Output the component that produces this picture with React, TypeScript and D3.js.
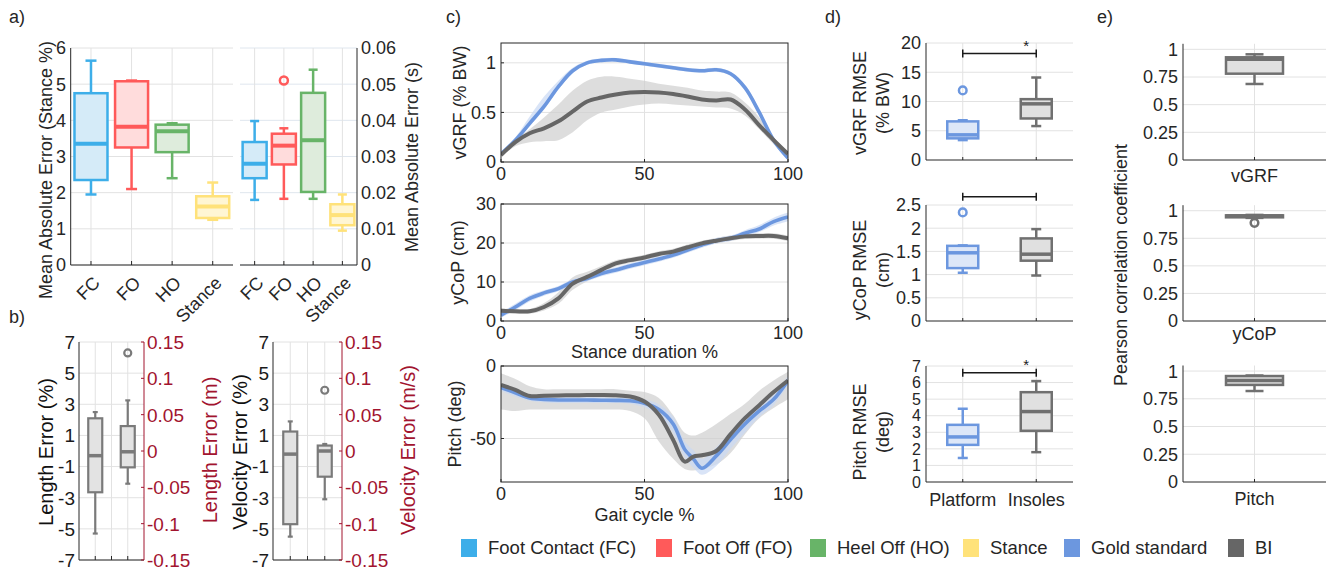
import * as d3 from "d3";

const FONT = "'Liberation Sans', Arial, Helvetica, sans-serif";
const INK = "#262626";
const GRID = "#e2e2e2";
const CRIMSON = "#a2142f";
const GOLD = "#6c97df";
const GOLD_FILL = "#dde7f8";
const BI = "#666666";
const BI_BOX = "#707070";
const BI_FILL = "#e0e0e0";

// a) event timing errors: [lowWhisker, q1, median, q3, highWhisker]
const events = ["FC", "FO", "HO", "Stance"];
const eventColors = ["#3daee9", "#ff5a5a", "#68b468", "#ffe27a"];
const eventFills = ["#d5ebf8", "#ffdcdc", "#deecdc", "#fff6d4"];
const maePct = [
  [1.95, 2.35, 3.35, 4.75, 5.65],
  [2.1, 3.25, 3.82, 5.08, 5.1],
  [2.4, 3.12, 3.7, 3.88, 3.92],
  [1.25, 1.3, 1.62, 1.9, 2.28],
];
const maeSec = [
  [0.018, 0.024, 0.028, 0.034, 0.0398],
  [0.0183, 0.0278, 0.033, 0.0363, 0.0378],
  [0.0183, 0.0202, 0.0345, 0.0476, 0.054],
  [0.0095, 0.011, 0.0138, 0.0168, 0.0195],
];
const maeSecOutliers = [[], [0.051], [], []];
const pctTicks = [0, 1, 2, 3, 4, 5, 6];
const secTicks = [0, 0.01, 0.02, 0.03, 0.04, 0.05, 0.06];
const secTickLabels = ["0", "0.01", "0.02", "0.03", "0.04", "0.05", "0.06"];

// b) length and velocity errors
const lengthPct = [
  [-5.3, -2.65, -0.3, 2.1, 2.5],
  [-2.1, -1.05, -0.05, 1.6, 3.25],
];
const lengthOutliers = [[], [6.3]];
const velocityPct = [
  [-5.5, -4.7, -0.2, 1.25, 1.9],
  [-3.1, -1.65, 0.0, 0.35, 0.45],
];
const velocityOutliers = [[], [3.9]];
const errTicks = [-7, -5, -3, -1, 1, 3, 5, 7];
const errTicks2 = [-0.15, -0.1, -0.05, 0, 0.05, 0.1, 0.15];
const errTickLabels2 = ["-0.15", "-0.1", "-0.05", "0", "0.05", "0.1", "0.15"];

// c) mean curves with spread bands
const pctX = [0, 5, 10, 15, 20, 25, 30, 35, 40, 45, 50, 55, 60, 65, 70, 75, 80, 85, 90, 95, 100];
const vgrfGold = [0.08, 0.22, 0.39, 0.56, 0.76, 0.92, 1.0, 1.025, 1.03, 1.01, 0.99, 0.97, 0.95, 0.93, 0.92, 0.93, 0.89, 0.75, 0.5, 0.22, 0.04];
const vgrfGoldLo = [0.06, 0.2, 0.36, 0.53, 0.73, 0.9, 0.98, 1.005, 1.01, 0.99, 0.97, 0.95, 0.93, 0.91, 0.9, 0.91, 0.87, 0.72, 0.47, 0.19, 0.02];
const vgrfGoldHi = [0.1, 0.25, 0.46, 0.66, 0.82, 0.95, 1.02, 1.045, 1.05, 1.03, 1.01, 0.99, 0.97, 0.95, 0.94, 0.95, 0.91, 0.78, 0.53, 0.25, 0.06];
const vgrfBI = [0.07, 0.2, 0.29, 0.34, 0.41, 0.51, 0.61, 0.65, 0.68, 0.7, 0.705, 0.7, 0.685, 0.66, 0.63, 0.62, 0.63, 0.53, 0.37, 0.22, 0.08];
const vgrfBILo = [0.05, 0.16, 0.2, 0.21, 0.22, 0.3, 0.42, 0.5, 0.53, 0.56, 0.58, 0.59, 0.58, 0.57, 0.56, 0.55, 0.54, 0.47, 0.33, 0.18, 0.05];
const vgrfBIHi = [0.1, 0.22, 0.33, 0.45, 0.58, 0.72, 0.82, 0.86, 0.86, 0.84, 0.82, 0.79, 0.77, 0.75, 0.72, 0.71, 0.7, 0.6, 0.45, 0.25, 0.1];

const copGold = [1.5, 3.6, 5.8, 7.2, 8.3, 10.0, 10.9, 12.2, 13.1, 14.1, 15.0, 15.9, 16.9, 18.2, 19.5, 20.6, 21.2, 22.5, 23.6, 25.5, 26.7];
const copGoldLo = [0.8, 2.8, 5.0, 6.5, 7.6, 9.3, 10.2, 11.5, 12.4, 13.4, 14.3, 15.2, 16.2, 17.5, 18.8, 19.9, 20.5, 21.7, 22.8, 24.5, 25.6];
const copGoldHi = [2.2, 4.4, 6.6, 7.9, 9.0, 10.7, 11.6, 12.9, 13.8, 14.8, 15.7, 16.6, 17.6, 18.9, 20.2, 21.3, 21.9, 23.3, 24.6, 26.5, 27.8];
const copBI = [2.6, 2.5, 2.5, 3.6, 5.8, 9.6, 11.3, 13.1, 14.8, 15.6, 16.3, 17.2, 17.8, 18.9, 19.9, 20.6, 21.2, 21.7, 21.8, 21.8, 21.2];
const copBILo = [2.0, 1.9, 1.9, 2.7, 4.4, 8.0, 10.2, 12.2, 14.0, 14.9, 15.6, 16.5, 17.1, 18.2, 19.2, 19.9, 20.5, 21.0, 21.1, 21.1, 20.5];
const copBIHi = [3.2, 3.1, 3.1, 4.6, 7.4, 11.2, 12.6, 14.1, 15.6, 16.3, 17.0, 17.9, 18.5, 19.6, 20.6, 21.3, 21.9, 22.4, 22.5, 22.5, 21.9];

const pitchX = [0, 5, 10, 15, 20, 25, 30, 35, 40, 45, 50, 55, 60, 64, 67, 70, 75, 80, 85, 90, 95, 100];
const pitchGold = [-14.8, -18.5, -22, -23, -23.4, -23.4, -23.5, -23.6, -23.7, -24, -25.7, -30, -40, -57.5, -64, -70.5, -62, -50.7, -40, -31, -23, -10];
const pitchGoldLo = [-17, -21, -24, -25, -25.5, -25.5, -25.5, -25.5, -25.5, -26, -28.5, -34, -46, -63, -70, -75, -69, -57, -46, -35, -27, -13];
const pitchGoldHi = [-12.5, -16, -20, -21, -21.3, -21.3, -21.5, -21.7, -21.9, -22, -23, -26.5, -35, -52, -58, -64, -56, -45, -34, -27, -19, -7];
const pitchBI = [-13, -16.5, -20.7, -20.5, -20.3, -20.2, -20, -20, -20.2, -21, -24.5, -33.6, -51, -66, -62.5, -61.6, -58.6, -47, -36, -27, -18, -10];
const pitchBILo = [-30, -31, -30, -30, -30, -30, -30, -30, -30, -31, -36, -52, -64, -71, -72, -71, -68, -60, -47, -36, -29, -23];
const pitchBIHi = [-5, -9, -14, -16, -16, -16, -16, -16, -16, -17, -18, -22, -34, -46, -48, -46, -40, -33, -26, -17, -10, -4];

// d) RMSE per method
const methods = ["Platform", "Insoles"];
const vgrfRmse = [[3.4, 3.7, 4.3, 6.6, 6.8], [5.8, 7.1, 9.6, 10.4, 14.1]];
const vgrfRmseOutliers = [[11.9], []];
const copRmse = [[1.04, 1.14, 1.47, 1.62, 1.63], [0.98, 1.3, 1.44, 1.78, 1.98]];
const copRmseOutliers = [[2.34], []];
const pitchRmse = [[1.45, 2.24, 2.72, 3.45, 4.42], [1.8, 3.09, 4.25, 5.42, 6.09]];
const pitchRmseOutliers = [[], []];

// e) Pearson correlation
const corrVgrf = [0.687, 0.78, 0.91, 0.928, 0.955];
const corrCop = [0.935, 0.94, 0.952, 0.958, 0.962];
const corrCopOutliers = [0.89];
const corrPitch = [0.82, 0.875, 0.915, 0.955, 0.96];
const corrTicks = [0, 0.25, 0.5, 0.75, 1];

const legendNames = ["Foot Contact (FC)", "Foot Off (FO)", "Heel Off (HO)", "Stance", "Gold standard", "BI"];
const legendColors = ["#3daee9", "#ff5a5a", "#68b468", "#ffe27a", GOLD, BI];
const legendX = [461, 656, 810, 963, 1064, 1228];

type Sc = (v: number) => number;

function BoxMark({ cx, w, cap, s, y, stroke, fill, lw = 2.5, mlw = 4, outliers = [], r = 4 }:
  { cx: number; w: number; cap: number; s: number[]; y: Sc; stroke: string; fill: string; lw?: number; mlw?: number; outliers?: number[]; r?: number }) {
  const [lo, q1, med, q3, hi] = s;
  return (
    <g>
      <line x1={cx} x2={cx} y1={y(hi)} y2={y(q3)} stroke={stroke} strokeWidth={lw} />
      <line x1={cx} x2={cx} y1={y(q1)} y2={y(lo)} stroke={stroke} strokeWidth={lw} />
      <line x1={cx - cap / 2} x2={cx + cap / 2} y1={y(hi)} y2={y(hi)} stroke={stroke} strokeWidth={lw} />
      <line x1={cx - cap / 2} x2={cx + cap / 2} y1={y(lo)} y2={y(lo)} stroke={stroke} strokeWidth={lw} />
      <rect x={cx - w / 2} y={y(q3)} width={w} height={y(q1) - y(q3)} fill={fill} stroke={stroke} strokeWidth={lw} />
      <line x1={cx - w / 2} x2={cx + w / 2} y1={y(med)} y2={y(med)} stroke={stroke} strokeWidth={mlw} />
      {outliers.map((o, i) => (
        <circle key={i} cx={cx} cy={y(o)} r={r} fill="none" stroke={stroke} strokeWidth={lw} />
      ))}
    </g>
  );
}

function HGrid({ y, ticks, x1, x2, color = GRID }: { y: Sc; ticks: number[]; x1: number; x2: number; color?: string }) {
  return <g>{ticks.map((t) => <line key={t} x1={x1} x2={x2} y1={y(t)} y2={y(t)} stroke={color} strokeWidth={1} />)}</g>;
}

function VGrid({ xs, y1, y2 }: { xs: number[]; y1: number; y2: number }) {
  return <g>{xs.map((x, i) => <line key={i} x1={x} x2={x} y1={y1} y2={y2} stroke={GRID} strokeWidth={1} />)}</g>;
}

function YLabels({ y, ticks, labels, x, anchor = "end", color = INK, size = 18 }:
  { y: Sc; ticks: number[]; labels?: string[]; x: number; anchor?: string; color?: string; size?: number }) {
  return (
    <g fontSize={size} fill={color} textAnchor={anchor}>
      {ticks.map((t, i) => (
        <text key={i} x={x} y={y(t)} dy="0.36em">{labels ? labels[i] : String(t)}</text>
      ))}
    </g>
  );
}

function VText({ x, y, children, size = 18, color = INK }: { x: number; y: number; children: any; size?: number; color?: string }) {
  return (
    <text transform={`translate(${x},${y}) rotate(-90)`} textAnchor="middle" dominantBaseline="central" fontSize={size} fill={color}>
      {children}
    </text>
  );
}

function PanelA() {
  const y = d3.scaleLinear([0, 6], [265, 48]);
  const y2 = d3.scaleLinear([0, 0.06], [265, 48]);
  const xl = d3.scaleBand(events, [70.7, 233]);
  const xr = d3.scaleBand(events, [240, 357]);
  const cl = (e: string) => (xl(e) as number) + xl.bandwidth() / 2;
  const cr = (e: string) => (xr(e) as number) + xr.bandwidth() / 2;
  return (
    <g>
      <HGrid y={y} ticks={pctTicks} x1={70.7} x2={233} />
      <VGrid xs={events.map(cl)} y1={48} y2={265} />
      <HGrid y={y2} ticks={secTicks} x1={240} x2={357} color="#dfe6ee" />
      <VGrid xs={events.map(cr)} y1={48} y2={265} />
      {events.map((e, i) => (
        <BoxMark key={e} cx={cl(e)} w={33} cap={11} s={maePct[i]} y={y} stroke={eventColors[i]} fill={eventFills[i]} />
      ))}
      {events.map((e, i) => (
        <BoxMark key={e} cx={cr(e)} w={24} cap={9} s={maeSec[i]} y={y2} stroke={eventColors[i]} fill={eventFills[i]} outliers={maeSecOutliers[i]} />
      ))}
      <line x1={70.7} x2={70.7} y1={48} y2={265} stroke={INK} />
      <line x1={70.7} x2={233} y1={265} y2={265} stroke={INK} />
      <line x1={357} x2={357} y1={48} y2={265} stroke={INK} />
      <line x1={240} x2={357} y1={265} y2={265} stroke={INK} />
      {events.map((e) => <line key={e} x1={cl(e)} x2={cl(e)} y1={265} y2={261} stroke={INK} />)}
      {events.map((e) => <line key={e} x1={cr(e)} x2={cr(e)} y1={265} y2={261} stroke={INK} />)}
      <YLabels y={y} ticks={pctTicks} x={66} />
      <YLabels y={y2} ticks={secTicks} labels={secTickLabels} x={361} anchor="start" />
      {events.map((e) => (
        <text key={e} transform={`translate(${cl(e) + 1},${275}) rotate(-45)`} textAnchor="end" dominantBaseline="hanging" fontSize={18} fill={INK}>{e}</text>
      ))}
      {events.map((e) => (
        <text key={e} transform={`translate(${cr(e) + 1},${275}) rotate(-45)`} textAnchor="end" dominantBaseline="hanging" fontSize={18} fill={INK}>{e}</text>
      ))}
      <VText x={46} y={170}>Mean Absolute Error (Stance %)</VText>
      <VText x={412} y={157}>Mean Absolute Error (s)</VText>
    </g>
  );
}

function ErrorAxes({ x0, x1, stats, outliers, label, label2 }: { x0: number; x1: number; stats: number[][]; outliers: number[][]; label: string; label2: string }) {
  const y = d3.scaleLinear([-7, 7], [560, 342]);
  const y2 = d3.scaleLinear([-0.15, 0.15], [560, 342]);
  const x = d3.scaleLinear([0.5, 2.5], [x0, x1]);
  return (
    <g>
      <HGrid y={y} ticks={errTicks} x1={x0} x2={x1} />
      <VGrid xs={[x(1), x(1.5), x(2)]} y1={342} y2={560} />
      {stats.map((s, i) => (
        <BoxMark key={i} cx={x(i + 1)} w={14} cap={5} s={s} y={y} stroke="#7a7a7a" fill="#e3e3e3" lw={2.2} mlw={3.5} outliers={outliers[i]} r={3.5} />
      ))}
      <line x1={x0} x2={x0} y1={342} y2={560} stroke={INK} />
      <line x1={x0} x2={x1} y1={560} y2={560} stroke={INK} />
      <line x1={x1} x2={x1} y1={342} y2={560} stroke={CRIMSON} />
      {[1, 1.5, 2].map((t) => <line key={t} x1={x(t)} x2={x(t)} y1={560} y2={556} stroke={INK} />)}
      {errTicks2.map((t) => <line key={t} x1={x1} x2={x1 - 3} y1={y2(t)} y2={y2(t)} stroke={CRIMSON} />)}
      <YLabels y={y} ticks={errTicks} x={x0 - 4} size={19} color="#1a1a1a" />
      <YLabels y={y2} ticks={errTicks2} labels={errTickLabels2} x={x1 + 3} anchor="start" size={19} color={CRIMSON} />
      <VText x={x0 - 33} y={452} size={20} color="#111">{label}</VText>
      <VText x={x1 + 66} y={450} size={20} color={CRIMSON}>{label2}</VText>
    </g>
  );
}

function CurveAxes({ top, bottom, domain, ticks, xs, gold, goldLo, goldHi, bi, biLo, biHi, ylabel, labX, xlabel, xlabY, tickLabY }:
  { top: number; bottom: number; domain: [number, number]; ticks: number[]; xs: number[]; gold: number[]; goldLo: number[]; goldHi: number[]; bi: number[]; biLo: number[]; biHi: number[]; ylabel: string; labX: number; xlabel?: string; xlabY?: number; tickLabY: number }) {
  const x = d3.scaleLinear([0, 100], [501, 788]);
  const y = d3.scaleLinear(domain, [bottom, top]);
  const curve = d3.curveCatmullRom.alpha(0.5);
  const line = d3.line<number>().x((_, i) => x(xs[i])).y((d) => y(d)).curve(curve);
  const band = (lo: number[], hi: number[]) =>
    d3.area<number>().x((_, i) => x(xs[i])).y0((d) => y(d)).y1((_, i) => y(hi[i])).curve(curve)(lo) as string;
  const id = `clip${top}`;
  return (
    <g>
      <defs>
        <clipPath id={id}><rect x={501} y={top} width={287} height={bottom - top} /></clipPath>
      </defs>
      <HGrid y={y} ticks={ticks.filter((t) => t !== domain[0] && t !== domain[1])} x1={501} x2={788} />
      <VGrid xs={[x(50)]} y1={top} y2={bottom} />
      <g clipPath={`url(#${id})`}>
        <path d={band(biLo, biHi)} fill="#cfcfcf" opacity={0.7} />
        <path d={band(goldLo, goldHi)} fill="#c9d8f4" opacity={0.7} />
        <path d={line(gold) as string} fill="none" stroke={GOLD} strokeWidth={3.6} />
        <path d={line(bi) as string} fill="none" stroke={BI} strokeWidth={4} />
      </g>
      <rect x={501} y={top} width={287} height={bottom - top} fill="none" stroke={INK} strokeWidth={1} />
      {[0, 50, 100].map((t) => <line key={t} x1={x(t)} x2={x(t)} y1={bottom} y2={bottom - 3} stroke={INK} />)}
      {ticks.map((t) => <line key={t} x1={501} x2={504} y1={y(t)} y2={y(t)} stroke={INK} />)}
      <YLabels y={y} ticks={ticks} x={496} />
      <g fontSize={18} fill={INK} textAnchor="middle">
        {[0, 50, 100].map((t) => <text key={t} x={x(t)} y={tickLabY}>{t}</text>)}
      </g>
      <VText x={labX} y={(top + bottom) / 2}>{ylabel}</VText>
      {xlabel && <text x={644.5} y={xlabY} textAnchor="middle" fontSize={18} fill={INK}>{xlabel}</text>}
    </g>
  );
}

function RmseAxes({ top, bottom, domain, ticks, stats, outliers, bracket, star, lab1, lab2, labY, showX, tickSize = 18 }:
  { top: number; bottom: number; domain: [number, number]; ticks: number[]; stats: number[][]; outliers: number[][]; bracket: number; star: boolean; lab1: string; lab2: string; labY: number; showX?: boolean; tickSize?: number }) {
  const x = d3.scaleLinear([0.5, 2.5], [926, 1073]);
  const y = d3.scaleLinear(domain, [bottom, top]);
  const colors = [GOLD, BI_BOX];
  const fills = [GOLD_FILL, BI_FILL];
  return (
    <g>
      <HGrid y={y} ticks={ticks.filter((t) => t !== 0)} x1={926} x2={1073} />
      <VGrid xs={[x(1), x(2)]} y1={top} y2={bottom} />
      {stats.map((s, i) => (
        <BoxMark key={i} cx={x(i + 1)} w={31} cap={10} s={s} y={y} stroke={colors[i]} fill={fills[i]} lw={2.5} mlw={3.5} outliers={outliers[i]} r={3.8} />
      ))}
      <line x1={926} x2={926} y1={top} y2={bottom} stroke={INK} />
      <line x1={926} x2={1073} y1={bottom} y2={bottom} stroke={INK} />
      {[1, 2].map((t) => <line key={t} x1={x(t)} x2={x(t)} y1={bottom} y2={bottom - 3} stroke={INK} />)}
      <g stroke="#1a1a1a" strokeWidth={1.5}>
        <line x1={x(1)} x2={x(2)} y1={y(bracket)} y2={y(bracket)} />
        <line x1={x(1)} x2={x(1)} y1={y(bracket) - 4} y2={y(bracket) + 4} />
        <line x1={x(2)} x2={x(2)} y1={y(bracket) - 4} y2={y(bracket) + 4} />
      </g>
      {star && <text x={x(2) - 10} y={y(bracket) - 3} textAnchor="middle" fontSize={15} fill="#1a1a1a">*</text>}
      <YLabels y={y} ticks={ticks} x={921} size={tickSize} />
      <VText x={860} y={labY}>{lab1}</VText>
      <VText x={883} y={labY}>{lab2}</VText>
      {showX && methods.map((m, i) => (
        <text key={m} x={x(i + 1)} y={506} textAnchor="middle" fontSize={18} fill={INK}>{m}</text>
      ))}
    </g>
  );
}

function CorrAxes({ top, bottom, stats, outliers = [], label, labY }: { top: number; bottom: number; stats: number[]; outliers?: number[]; label: string; labY: number }) {
  const y = d3.scaleLinear([0, 1.05], [bottom, top]);
  const x = d3.scaleLinear([0.5, 1.5], [1183, 1326]);
  return (
    <g>
      <HGrid y={y} ticks={corrTicks.slice(1)} x1={1183} x2={1326} />
      <VGrid xs={[x(1)]} y1={top} y2={bottom} />
      <BoxMark cx={x(1)} w={57} cap={18} s={stats} y={y} stroke={BI_BOX} fill={BI_FILL} lw={2.5} mlw={3.5} outliers={outliers} r={3.8} />
      <line x1={1183} x2={1183} y1={top} y2={bottom} stroke={INK} />
      <line x1={1183} x2={1326} y1={bottom} y2={bottom} stroke={INK} />
      <line x1={x(1)} x2={x(1)} y1={bottom} y2={bottom - 3} stroke={INK} />
      <YLabels y={y} ticks={corrTicks} x={1178} />
      <text x={x(1)} y={labY} textAnchor="middle" fontSize={18} fill={INK}>{label}</text>
    </g>
  );
}

export default function App() {
  return (
    <svg width={1330} height={572} style={{ position: "absolute", left: 0, top: 0, display: "block" }} fontFamily={FONT}>
      <rect width={1330} height={572} fill="#fff" />
      <g fontSize={18} fill={INK}>
        <text x={9} y={23}>a)</text>
        <text x={9} y={323}>b)</text>
        <text x={446} y={23}>c)</text>
        <text x={825} y={23}>d)</text>
        <text x={1097} y={23}>e)</text>
      </g>
      <PanelA />
      <ErrorAxes x0={79} x1={144} stats={lengthPct} outliers={lengthOutliers} label="Length Error (%)" label2="Length Error (m)" />
      <ErrorAxes x0={273} x1={342} stats={velocityPct} outliers={velocityOutliers} label="Velocity Error (%)" label2="Velocity Error (m/s)" />

      <CurveAxes top={43} bottom={162} domain={[0, 1.2]} ticks={[0, 0.5, 1]} xs={pctX}
        gold={vgrfGold} goldLo={vgrfGoldLo} goldHi={vgrfGoldHi} bi={vgrfBI} biLo={vgrfBILo} biHi={vgrfBIHi}
        ylabel="vGRF (% BW)" labX={460} tickLabY={180} />
      <CurveAxes top={204} bottom={321} domain={[0, 30]} ticks={[0, 10, 20, 30]} xs={pctX}
        gold={copGold} goldLo={copGoldLo} goldHi={copGoldHi} bi={copBI} biLo={copBILo} biHi={copBIHi}
        ylabel="yCoP (cm)" labX={458} xlabel="Stance duration %" xlabY={358} tickLabY={339} />
      <CurveAxes top={366} bottom={482} domain={[-80, 0]} ticks={[-50, 0]} xs={pitchX}
        gold={pitchGold} goldLo={pitchGoldLo} goldHi={pitchGoldHi} bi={pitchBI} biLo={pitchBILo} biHi={pitchBIHi}
        ylabel="Pitch (deg)" labX={455} xlabel="Gait cycle %" xlabY={521} tickLabY={500} />

      <RmseAxes top={43} bottom={160} domain={[0, 20]} ticks={[0, 5, 10, 15, 20]} stats={vgrfRmse} outliers={vgrfRmseOutliers}
        bracket={18.2} star lab1="vGRF RMSE" lab2="(% BW)" labY={103} />
      <RmseAxes top={205} bottom={321} domain={[0, 2.5]} ticks={[0, 0.5, 1, 1.5, 2, 2.5]} stats={copRmse} outliers={copRmseOutliers}
        bracket={2.68} star={false} lab1="yCoP RMSE" lab2="(cm)" labY={270} />
      <RmseAxes top={366} bottom={482} domain={[0, 7]} ticks={[0, 1, 2, 3, 4, 5, 6, 7]} stats={pitchRmse} outliers={pitchRmseOutliers}
        bracket={6.6} star lab1="Pitch RMSE" lab2="(deg)" labY={432} showX tickSize={16} />

      <CorrAxes top={43.8} bottom={160} stats={corrVgrf} label="vGRF" labY={182} />
      <CorrAxes top={205.2} bottom={321} stats={corrCop} outliers={corrCopOutliers} label="yCoP" labY={340} />
      <CorrAxes top={365.5} bottom={482} stats={corrPitch} label="Pitch" labY={505} />
      <VText x={1121} y={265}>Pearson correlation coefficient</VText>

      <g fontSize={18.5} fill={INK}>
        {legendNames.map((n, i) => (
          <g key={n}>
            <rect x={legendX[i]} y={539} width={16} height={18} fill={legendColors[i]} />
            <text x={legendX[i] + 27} y={554}>{n}</text>
          </g>
        ))}
      </g>
    </svg>
  );
}
